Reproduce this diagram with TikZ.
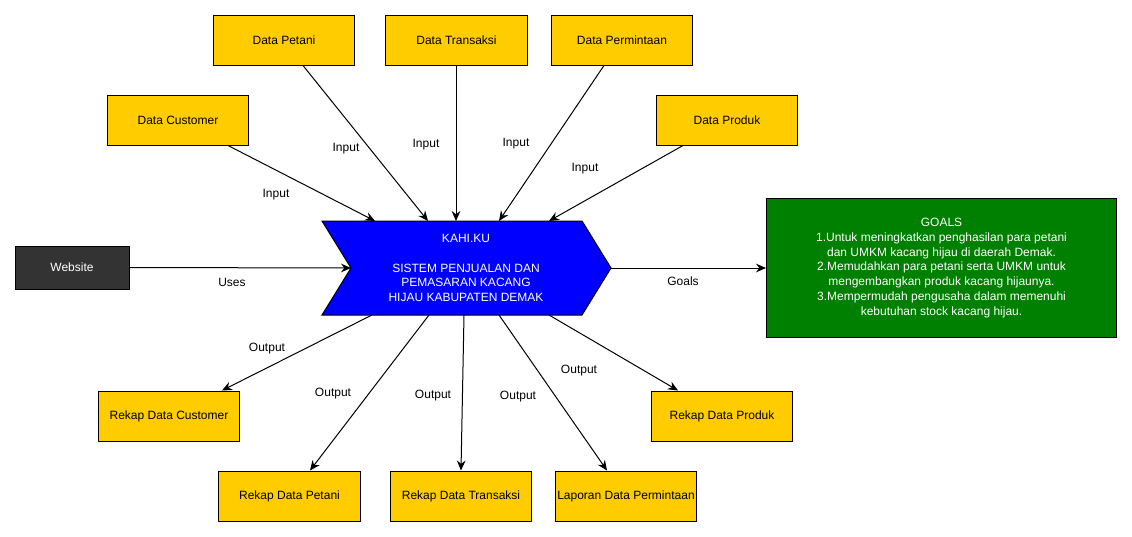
\documentclass[tikz,border=0pt]{standalone}
\usepackage{fontspec}
\setmainfont{Liberation Sans}
\usetikzlibrary{arrows.meta}
\definecolor{ybox}{HTML}{FFCC00}
\definecolor{dbox}{HTML}{333333}
\definecolor{gbox}{HTML}{008000}
\definecolor{bchev}{HTML}{0000FF}
\tikzset{
  ybox/.style={draw=black, line width=0.75pt, fill=ybox, minimum width=106pt, minimum height=37.5pt, inner sep=0pt, font=\fontsize{9}{11}\selectfont},
  conn/.style={draw=black, line width=0.75pt, -{Stealth[length=7.5pt,width=6.5pt,inset=2.5pt]}},
  lbl/.style={font=\fontsize{9}{11}\selectfont, inner sep=0pt},
}
\begin{document}
\begin{tikzpicture}[x=0.75pt,y=-0.75pt]
\useasboundingbox (0,0) rectangle (1132,536);
% top boxes
\node[ybox] (petani) at (284,40) {\raisebox{-0.8pt}{Data Petani}};
\node[ybox] (transaksi) at (456.5,40) {\raisebox{-0.8pt}{Data Transaksi}};
\node[ybox] (permintaan) at (622,40) {\raisebox{-0.8pt}{Data Permintaan}};
\node[ybox] (customer) at (178,120) {\raisebox{-0.8pt}{Data Customer}};
\node[ybox] (produk) at (727,120) {\raisebox{-0.8pt}{Data Produk}};
% bottom boxes
\node[ybox] (rcustomer) at (169,416) {\raisebox{-0.8pt}{Rekap Data Customer}};
\node[ybox] (rpetani) at (289.5,496) {\raisebox{-0.8pt}{Rekap Data Petani}};
\node[ybox] (rtransaksi) at (461,496) {\raisebox{-0.8pt}{Rekap Data Transaksi}};
\node[ybox] (laporan) at (626,496) {\raisebox{-0.8pt}{Laporan Data Permintaan}};
\node[ybox] (rproduk) at (722,416) {\raisebox{-0.8pt}{Rekap Data Produk}};
% website
\node[draw=black, line width=0.75pt, fill=dbox, text=white, minimum width=85.5pt, minimum height=32.25pt, font=\fontsize{9}{11}\selectfont] (website) at (72,267.5) {\raisebox{-0.8pt}{Website}};
% goals
\node[draw=black, line width=0.75pt, fill=gbox, text=white, minimum width=262.5pt, minimum height=104.25pt, align=center, font=\fontsize{9}{11.2}\selectfont] (goals) at (941.5,268) {GOALS\\1.Untuk meningkatkan penghasilan para petani\\dan UMKM kacang hijau di daerah Demak.\\2.Memudahkan para petani serta UMKM untuk\\mengembangkan produk kacang hijaunya.\\3.Mempermudah pengusaha dalam memenuhi\\kebutuhan stock kacang hijau.};
% chevron
\coordinate (cTL) at (322,221);
\coordinate (cTR) at (582,221);
\coordinate (cTip) at (611,268);
\coordinate (cBR) at (582,315);
\coordinate (cBL) at (322,315);
\coordinate (cNotch) at (351,268);
\fill[bchev, draw=black, line width=0.75pt] (cTL) -- (cTR) -- (cTip) -- (cBR) -- (cBL) -- (cNotch) -- cycle;
\node[text=white, align=center, font=\fontsize{9}{11}\selectfont, inner sep=0pt] (kahi) at (466,268) {KAHI.KU\\[11pt]SISTEM PENJUALAN DAN\\PEMASARAN KACANG\\HIJAU KABUPATEN DEMAK};
% chevron anchor coordinates
\coordinate (i1) at (375,221);
\coordinate (i2) at (428,221);
\coordinate (i3) at (456,221);
\coordinate (i4) at (499,221);
\coordinate (i5) at (549,221);
\coordinate (o1) at (372,315);
\coordinate (o2) at (429,315);
\coordinate (o3) at (464,315);
\coordinate (o4) at (499,315);
\coordinate (o5) at (549,315);
% inputs
\draw[conn] (customer.south -| 228,0) -- (i1);
\draw[conn] (petani.south -| 303,0) -- (i2);
\draw[conn] (transaksi.south -| 456,0) -- (i3);
\draw[conn] (permintaan.south -| 604,0) -- (i4);
\draw[conn] (produk.south -| 683,0) -- (i5);
\draw[conn] (website.east) -- (cNotch);
\draw[conn] (cTip) -- (goals.west);
% outputs
\draw[conn] (o1) -- (rcustomer.north -| 222,0);
\draw[conn] (o2) -- (rpetani.north -| 310,0);
\draw[conn] (o3) -- (rtransaksi.north -| 461,0);
\draw[conn] (o4) -- (laporan.north -| 607,0);
\draw[conn] (o5) -- (rproduk.north -| 678,0);
% labels
\node[lbl] (l1) at (276,194.5) {Input};
\node[lbl] (l2) at (346,148.5) {Input};
\node[lbl] (l3) at (426,144.5) {Input};
\node[lbl] (l4) at (516,143.5) {Input};
\node[lbl] (l5) at (585,168.5) {Input};
\node[lbl] (l6) at (232,282.5) {Uses};
\node[lbl] (l7) at (683,281) {Goals};
\node[lbl] (l8) at (267,348.5) {Output};
\node[lbl] (l9) at (333,393.5) {Output};
\node[lbl] (l10) at (433,395.5) {Output};
\node[lbl] (l11) at (518,396.5) {Output};
\node[lbl] (l12) at (579,370.5) {Output};
\end{tikzpicture}
\end{document}
